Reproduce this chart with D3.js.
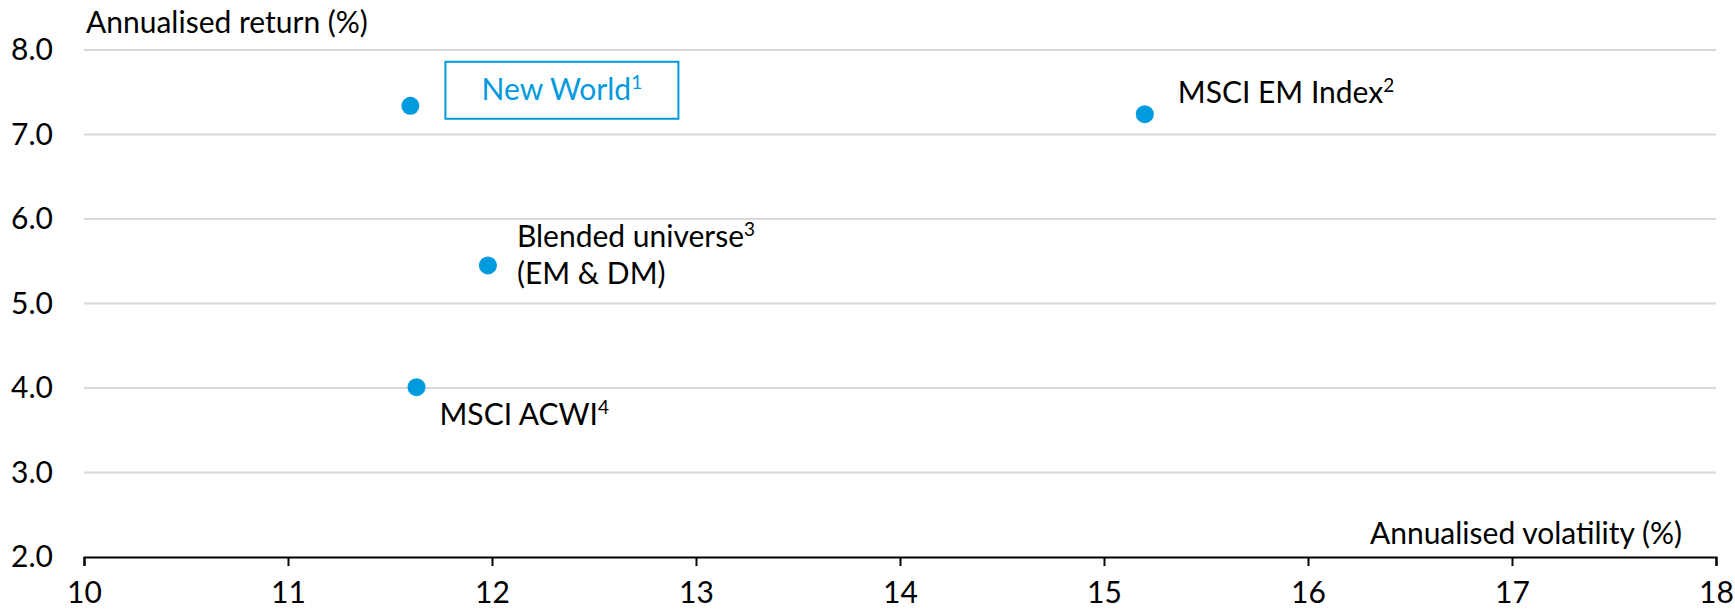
<!DOCTYPE html>
<html>
<head>
<meta charset="utf-8">
<script src="https://cdn.jsdelivr.net/npm/d3@7"></script>
<style>
  html, body { margin: 0; padding: 0; background: #ffffff; }
  svg { display: block; }
  text { font-family: "Lato", "Liberation Sans", sans-serif; fill: #000; }
</style>
</head>
<body>
<svg id="chart" width="1735" height="610"></svg>
<script>
// Risk / return of each strategy
const names = ["New World", "MSCI EM Index", "Blended universe", "MSCI ACWI"];
const footnotes = ["1", "2", "3", "4"];
const volatility = [11.60, 15.20, 11.98, 11.63];   // annualised volatility (%)
const returns = [7.34, 7.24, 5.45, 4.01];          // annualised return (%)
const xTicks = [10, 11, 12, 13, 14, 15, 16, 17, 18];
const yTicks = [2, 3, 4, 5, 6, 7, 8];

const W = 1735, H = 610;
const margin = { top: 50, right: 19, bottom: 53, left: 84 };
const blue = "#009ADE";
const fontSize = 30;
const fontFamily = "Lato, 'Liberation Sans', sans-serif";

const svg = d3.select("#chart");

const x = d3.scaleLinear().domain([10, 18]).range([margin.left, W - margin.right]);
const y = d3.scaleLinear().domain([2, 8]).range([H - margin.bottom, margin.top]);

// horizontal gridlines
svg.append("g")
  .selectAll("line")
  .data(yTicks.filter(d => d > 2))
  .join("line")
  .attr("x1", x(10)).attr("x2", x(18))
  .attr("y1", d => y(d)).attr("y2", d => y(d))
  .attr("stroke", "#d9d9d9").attr("stroke-width", 2);

// y axis labels
const yAxis = svg.append("g")
  .attr("transform", `translate(${margin.left},0)`)
  .call(d3.axisLeft(y).tickValues(yTicks).tickFormat(d3.format(".1f")).tickSize(0).tickPadding(31));
yAxis.select(".domain").remove();
yAxis.selectAll("text").style("font-size", fontSize + "px").style("font-family", fontFamily);

// x axis
const xAxis = svg.append("g")
  .attr("transform", `translate(0,${y(2)})`)
  .call(d3.axisBottom(x).tickValues(xTicks).tickFormat(d3.format("d")).tickSizeInner(9).tickSizeOuter(9).tickPadding(16));
xAxis.select(".domain").attr("stroke", "#000").attr("stroke-width", 2);
xAxis.selectAll(".tick line").attr("stroke", "#000").attr("stroke-width", 2);
xAxis.selectAll("text").style("font-size", fontSize + "px").style("font-family", fontFamily).attr("fill", "#000");

// axis titles
svg.append("text")
  .attr("x", 86).attr("y", 33)
  .style("font-size", fontSize + "px")
  .text("Annualised return (%)");

svg.append("text")
  .attr("x", 1682).attr("y", 544)
  .attr("text-anchor", "end")
  .style("font-size", fontSize + "px")
  .text("Annualised volatility (%)");

// points
const points = names.map((n, i) => ({ name: n, note: footnotes[i], vol: volatility[i], ret: returns[i] }));

svg.append("g")
  .selectAll("circle")
  .data(points)
  .join("circle")
  .attr("cx", d => x(d.vol))
  .attr("cy", d => y(d.ret))
  .attr("r", 9)
  .attr("fill", blue);

// label placement relative to each point
const labelLayout = {
  "MSCI EM Index": { dx: 33, dy: -11 },
  "Blended universe": { dx: 29, dy: -18, second: "(EM & DM)", lineGap: 37 },
  "MSCI ACWI": { dx: 23, dy: 38 }
};

function addLabel(g, txt, note, color) {
  g.append("tspan").text(txt);
  g.append("tspan").text(note)
    .style("font-size", Math.round(fontSize * 0.62) + "px")
    .attr("dy", -11);
  if (color) g.selectAll("tspan").attr("fill", color);
}

points.forEach(p => {
  const cx = x(p.vol), cy = y(p.ret);
  if (p.name === "New World") {
    const bx = cx + 35, by = cy - 44, bw = 233, bh = 57;
    svg.append("rect")
      .attr("x", bx).attr("y", by).attr("width", bw).attr("height", bh)
      .attr("fill", "#fff").attr("stroke", blue).attr("stroke-width", 2);
    const t = svg.append("text")
      .attr("x", bx + bw / 2).attr("y", by + bh / 2 + 10)
      .attr("text-anchor", "middle")
      .style("font-size", fontSize + "px");
    addLabel(t, p.name, p.note, blue);
    return;
  }
  const lay = labelLayout[p.name];
  const t = svg.append("text")
    .attr("x", cx + lay.dx).attr("y", cy + lay.dy)
    .style("font-size", fontSize + "px");
  addLabel(t, p.name, p.note);
  if (lay.second) {
    svg.append("text")
      .attr("x", cx + lay.dx).attr("y", cy + lay.dy + lay.lineGap)
      .style("font-size", fontSize + "px")
      .text(lay.second);
  }
});
</script>
</body>
</html>
